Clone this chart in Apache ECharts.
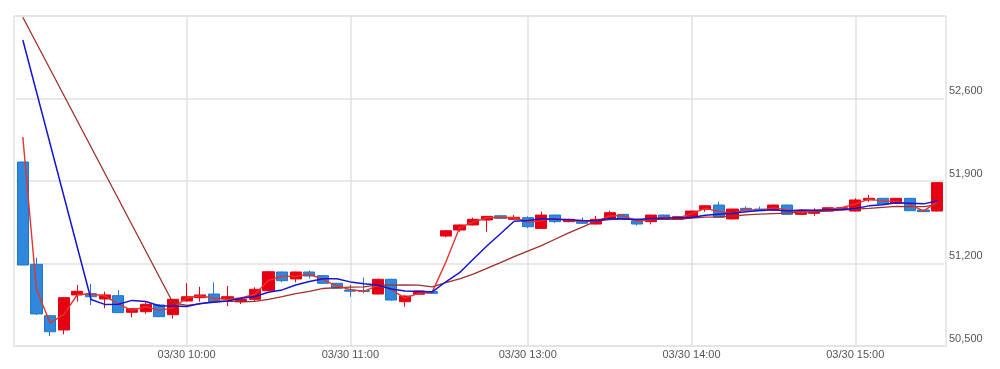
<!DOCTYPE html>
<html>
<head>
<meta charset="utf-8">
<script src="https://cdn.jsdelivr.net/npm/echarts@6/dist/echarts.min.js"></script>
<style>
html,body{margin:0;padding:0;background:#fff;}
#c{width:1000px;height:369px;}
</style>
</head>
<body>
<div id="c"></div>
<script>
const categories = [
"03/30 09:00","03/30 09:05","03/30 09:10","03/30 09:15","03/30 09:20","03/30 09:25","03/30 09:30","03/30 09:35","03/30 09:40","03/30 09:45","03/30 09:50","03/30 09:55",
"03/30 10:00","03/30 10:05","03/30 10:10","03/30 10:15","03/30 10:20","03/30 10:25","03/30 10:30","03/30 10:35","03/30 10:40","03/30 10:45","03/30 10:50","03/30 10:55",
"03/30 11:00","03/30 11:05","03/30 11:10","03/30 11:15","03/30 11:20","03/30 11:25","03/30 11:30",
"03/30 12:30","03/30 12:35","03/30 12:40","03/30 12:45","03/30 12:50","03/30 12:55",
"03/30 13:00","03/30 13:05","03/30 13:10","03/30 13:15","03/30 13:20","03/30 13:25","03/30 13:30","03/30 13:35","03/30 13:40","03/30 13:45","03/30 13:50","03/30 13:55",
"03/30 14:00","03/30 14:05","03/30 14:10","03/30 14:15","03/30 14:20","03/30 14:25","03/30 14:30","03/30 14:35","03/30 14:40","03/30 14:45","03/30 14:50","03/30 14:55",
"03/30 15:00","03/30 15:05","03/30 15:10","03/30 15:15","03/30 15:20","03/30 15:25","03/30 15:30"
];

const opens = [52061,51193,50757,50636,50933,50944,50899,50927,50786,50791,50848,50766,
50882,50910,50941,50899,50876,50896,50969,51128,51069,51128,51097,51032,
50975,50970,50941,51066,50876,50939,50961,
51433,51484,51527,51569,51605,51575,
51589,51498,51611,51555,51555,51535,51583,51617,51563,51555,51611,51575,
51597,51660,51696,51578,51668,51662,51654,51696,51617,51626,51645,51668,
51645,51739,51753,51711,51753,51654,51645];

const closes = [51187,50772,50621,50910,50964,50918,50933,50783,50816,50854,50749,50896,
50918,50933,50876,50918,50896,50981,51130,51054,51128,51094,51032,50990,
50965,50963,51066,50890,50924,50967,50947,
51478,51527,51575,51600,51583,51592,
51512,51611,51555,51575,51541,51575,51631,51583,51535,51611,51575,51597,
51645,51690,51592,51662,51654,51648,51696,51617,51648,51645,51673,51673,
51739,51753,51705,51753,51648,51640,51886];

const lows = [51187,50763,50585,50599,50876,50848,50820,50780,50744,50774,50745,50732,
50878,50876,50870,50839,50856,50876,50965,51040,51040,51074,51028,50985,
50918,50948,50938,50885,50833,50935,50944,
51422,51470,51522,51470,51580,51572,
51500,51495,51545,51550,51536,51530,51580,51580,51521,51532,51572,51572,
51594,51639,51589,51575,51650,51645,51650,51614,51614,51605,51642,51665,
51642,51724,51702,51708,51645,51637,51642];

const highs = [52061,51249,50765,50915,51018,51026,50961,50975,50820,50871,50855,50900,
51032,51003,51040,51009,50910,50998,51135,51132,51130,51140,51100,51035,
51018,51080,51070,51070,50930,50970,50963,
51482,51530,51589,51603,51610,51611,
51600,51639,51614,51580,51592,51603,51648,51620,51566,51614,51614,51600,
51648,51693,51724,51665,51685,51682,51700,51700,51651,51668,51676,51676,
51753,51781,51756,51756,51756,51657,51889];

// short moving average (red)
const maShort = [52273,50980,50697,50766,50937,50941,50926,50858,50800,50835,50802,50823,
50907,50926,50905,50897,50907,50939,51056,51092,51091,51111,51063,51011,
50978,50964,51015,50978,50907,50946,50957,
51213,51503,51551,51588,51592,51588,
51552,51562,51583,51565,51558,51558,51603,51607,51559,51573,51593,51586,
51621,51668,51641,51627,51658,51651,51672,51657,51633,51647,51659,51673,
51706,51746,51729,51729,51701,51644,51725];

// medium moving average (blue)
const maMid = [53096,null,null,null,null,50895,50853,50855,50887,50878,50842,50839,
50836,50861,50871,50882,50906,50920,50956,50976,51018,51047,51070,51071,
51044,51029,51018,50984,50966,50963,50960,
51045,51122,51236,51349,51452,51559,
51565,51579,51576,51571,51564,51562,51581,51577,51573,51579,51585,51589,
51591,51609,51618,51627,51640,51649,51657,51645,51654,51651,51655,51659,
51666,51689,51698,51716,51712,51706,51731];

// long moving average (dark red)
const maLong = [53290,null,null,null,null,null,null,null,null,null,null,50867,
50845,50858,50879,50880,50874,50879,50896,50918,50944,50964,50988,50996,
51000,51002,51018,51016,51018,51017,51002,
51037,51070,51110,51158,51207,51259,
51305,51351,51406,51460,51508,51560,51573,51578,51574,51575,51575,51575,
51586,51593,51596,51603,51613,51619,51624,51627,51636,51639,51647,51654,
51661,51667,51676,51684,51683,51683,51698];

const yMin = 50500, yMax = 53300, yStep = 700;

const candleData = opens.map((o, i) => [o, closes[i], lows[i], highs[i]]);
const isHourLabel = (idx, val) => idx > 0 && /:00$/.test(val);
const hourCats = categories.filter((c, i) => isHourLabel(i, c));

const GRID = '#e2e2e2';
const chart = echarts.init(document.getElementById('c'), null, {renderer: 'canvas'});
chart.setOption({
  animation: false,
  grid: {left: 16, right: 56, top: 16, bottom: 23, show: false},
  graphic: [{
    type: 'rect', z: 0, silent: true,
    shape: {x: 14, y: 16, width: 932, height: 330},
    style: {fill: 'none', stroke: GRID, lineWidth: 1.5}
  }],
  xAxis: {
    type: 'category',
    data: categories,
    boundaryGap: true,
    axisLine: {show: false},
    axisTick: {show: false},
    splitLine: {show: false},
    axisLabel: {
      interval: isHourLabel,
      color: '#555', fontSize: 11, fontFamily: 'Liberation Sans, Arial, sans-serif', margin: 3
    }
  },
  yAxis: {
    type: 'value',
    position: 'right',
    min: yMin, max: yMax, interval: yStep,
    axisLine: {show: false},
    axisTick: {show: false},
    splitLine: {show: true, lineStyle: {color: GRID, width: 1.5}},
    axisLabel: {
      showMaxLabel: false,
      color: '#555', fontSize: 11, fontFamily: 'Liberation Sans, Arial, sans-serif',
      margin: 5, verticalAlign: 'bottom', lineHeight: 15,
      formatter: v => v.toLocaleString('en-US')
    }
  },
  series: [
    {
      type: 'line', data: [], silent: true,
      markLine: {
        z: 1, silent: true, symbol: 'none', label: {show: false},
        lineStyle: {color: GRID, width: 1.5, type: 'solid'},
        data: hourCats.map(c => ({xAxis: c}))
      }
    },
    {
      type: 'candlestick',
      data: candleData,
      barWidth: '85%',
      z: 2,
      itemStyle: {
        color: '#e60012', color0: '#2f88dc',
        borderColor: '#e60012', borderColor0: '#2276c9',
        borderWidth: 1
      }
    },
    {
      type: 'line', data: maShort, symbol: 'none', connectNulls: true, z: 4,
      lineStyle: {color: '#e8322a', width: 1.4}
    },
    {
      type: 'line', data: maMid, symbol: 'none', connectNulls: true, z: 5,
      lineStyle: {color: '#1414d8', width: 1.5}
    },
    {
      type: 'line', data: maLong, symbol: 'none', connectNulls: true, z: 3,
      lineStyle: {color: '#a0302a', width: 1.3}
    }
  ]
});
</script>
</body>
</html>
